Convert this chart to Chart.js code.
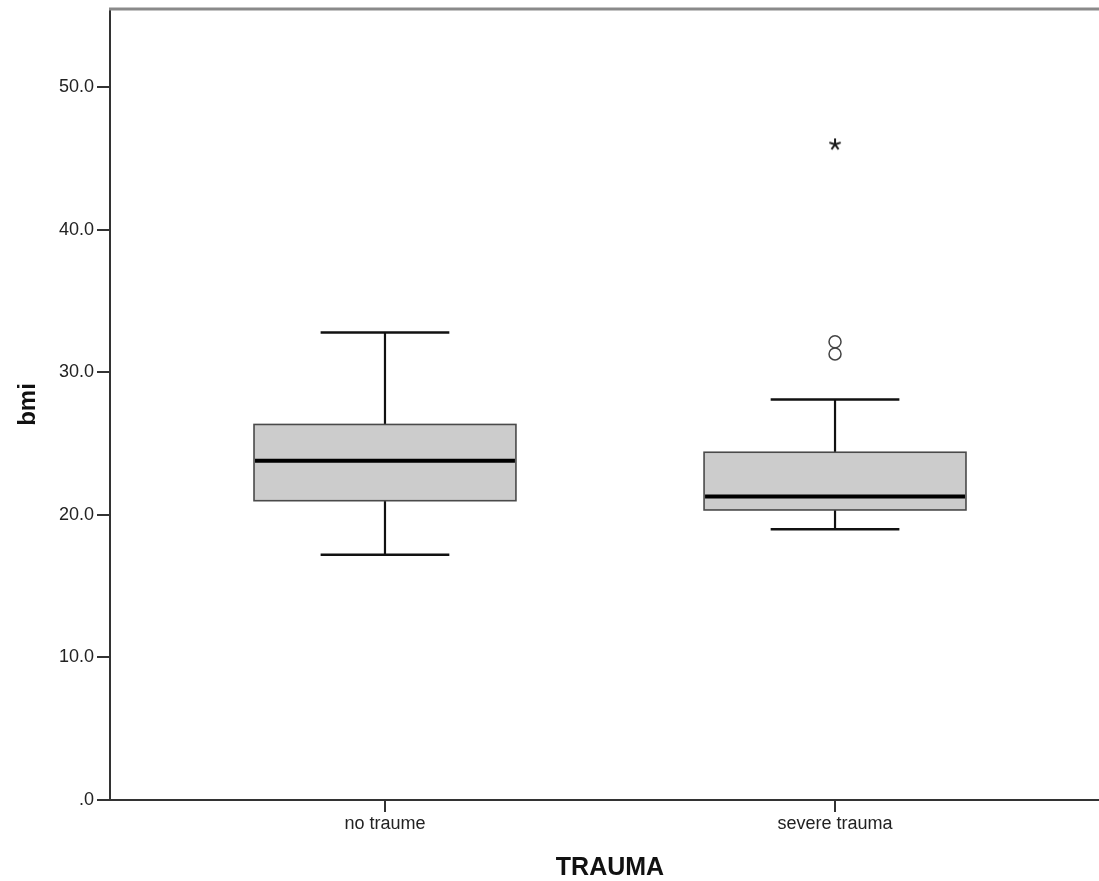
<!DOCTYPE html>
<html>
<head>
<meta charset="utf-8">
<script src="https://cdn.jsdelivr.net/npm/chart.js@4.4.1/dist/chart.umd.min.js"></script>
<style>
  html, body { margin: 0; padding: 0; background: #fff; overflow: hidden; }
  #wrap { width: 1119px; height: 881px; }
</style>
</head>
<body>
<div id="wrap"><canvas id="c" width="1119" height="881"></canvas></div>
<script>
// Groups and box-plot summary statistics for BMI
const categories   = ['no traume', 'severe trauma'];
const whiskerLow   = [17.2, 19.0];
const q1           = [21.0, 20.35];
const median       = [23.8, 21.3];
const q3           = [26.35, 24.4];
const whiskerHigh  = [32.8, 28.1];
const outliers     = [[], [32.15, 31.3]];   // drawn as open circles
const extremes     = [[], [46.0]];          // drawn as asterisks
const yTickValues  = [0, 10, 20, 30, 40, 50];

// Geometry of each box, in x-axis units
const BOX_HALF = 0.291;
const CAP_HALF = 0.143;
const FONT = '"Liberation Sans", Arial, sans-serif';

function flatten(groups) {
  const pts = [];
  groups.forEach((vals, i) => vals.forEach(v => pts.push({ x: i + 1, y: v })));
  return pts;
}

// five-armed asterisk marker as a small canvas image
function makeAsterisk() {
  const cv = document.createElement('canvas');
  cv.width = 16; cv.height = 16;
  const g = cv.getContext('2d');
  g.strokeStyle = '#1a1a1a';
  g.lineWidth = 2;
  g.lineCap = 'butt';
  for (let k = 0; k < 5; k++) {
    const a = -Math.PI / 2 + k * 2 * Math.PI / 5;
    g.beginPath();
    g.moveTo(8, 8);
    g.lineTo(8 + 6 * Math.cos(a), 8 + 6 * Math.sin(a));
    g.stroke();
  }
  return cv;
}

const boxPlugin = {
  id: 'boxes',
  beforeDatasetsDraw(chart) {
    const { ctx, scales: { x, y } } = chart;
    const line = (x1, y1, x2, y2) => { ctx.beginPath(); ctx.moveTo(x1, y1); ctx.lineTo(x2, y2); ctx.stroke(); };
    ctx.save();
    categories.forEach((_, i) => {
      const c = i + 1;
      const xc = x.getPixelForValue(c);
      const xl = x.getPixelForValue(c - BOX_HALF);
      const xr = x.getPixelForValue(c + BOX_HALF);
      const cl = x.getPixelForValue(c - CAP_HALF);
      const cr = x.getPixelForValue(c + CAP_HALF);
      const yHi = y.getPixelForValue(whiskerHigh[i]);
      const yLo = y.getPixelForValue(whiskerLow[i]);
      const yQ1 = y.getPixelForValue(q1[i]);
      const yQ3 = y.getPixelForValue(q3[i]);
      const yMd = y.getPixelForValue(median[i]);

      // whiskers and caps
      ctx.strokeStyle = '#111';
      ctx.lineWidth = 2.2;
      line(xc, yHi, xc, yQ3);
      line(xc, yQ1, xc, yLo);
      ctx.lineWidth = 2.5;
      line(cl, yHi, cr, yHi);
      line(cl, yLo, cr, yLo);

      // box
      ctx.fillStyle = '#cccccc';
      ctx.fillRect(xl, yQ3, xr - xl, yQ1 - yQ3);
      ctx.strokeStyle = '#4a4a4a';
      ctx.lineWidth = 1.6;
      ctx.strokeRect(xl, yQ3, xr - xl, yQ1 - yQ3);

      // median
      ctx.strokeStyle = '#000';
      ctx.lineWidth = 4;
      line(xl + 1, yMd, xr - 1, yMd);
    });
    ctx.restore();
  },
  afterDraw(chart) {
    // upper frame line
    const { ctx, chartArea: a } = chart;
    ctx.save();
    ctx.strokeStyle = '#8a8a8a';
    ctx.lineWidth = 3;
    ctx.beginPath();
    ctx.moveTo(a.left - 1, a.top);
    ctx.lineTo(a.right, a.top);
    ctx.stroke();
    ctx.restore();
  }
};

new Chart(document.getElementById('c'), {
  type: 'scatter',
  data: {
    datasets: [
      {
        data: flatten(outliers),
        pointStyle: 'circle',
        pointRadius: 6,
        borderWidth: 1.5,
        borderColor: '#444',
        backgroundColor: 'rgba(0,0,0,0)'
      },
      {
        data: flatten(extremes),
        pointStyle: makeAsterisk(),
        pointRadius: 8
      }
    ]
  },
  options: {
    responsive: false,
    animation: false,
    devicePixelRatio: 1,
    layout: { padding: { top: 7, right: 0, left: 0, bottom: 0 } },
    plugins: { legend: { display: false }, tooltip: { enabled: false } },
    scales: {
      x: {
        type: 'linear',
        position: 'bottom',
        min: 0.389,
        max: 2.611,
        afterBuildTicks: s => { s.ticks = categories.map((_, i) => ({ value: i + 1 })); },
        afterFit: s => { s.height = 81; s.paddingLeft = 0; s.paddingRight = 0; },
        grid: { drawOnChartArea: false, drawTicks: true, tickLength: 12, color: '#333', lineWidth: 2 },
        border: { display: true, color: '#333', width: 2 },
        ticks: {
          padding: 1,
          color: '#222',
          font: { family: FONT, size: 18 },
          callback: v => categories[v - 1] ?? ''
        },
        title: {
          display: true,
          text: 'TRAUMA',
          color: '#111',
          font: { family: FONT, size: 25, weight: 'bold', lineHeight: 1 },
          padding: { top: 0, bottom: 0 }
        }
      },
      y: {
        min: 0,
        max: 55.5,
        afterBuildTicks: s => { s.ticks = yTickValues.map(v => ({ value: v })); },
        afterFit: s => { s.width = 110; s.paddingTop = 0; s.paddingBottom = 0; },
        grid: { drawOnChartArea: false, drawTicks: true, tickLength: 13, color: '#333', lineWidth: 2 },
        border: { display: true, color: '#333', width: 2 },
        ticks: {
          padding: 3,
          color: '#222',
          font: { family: FONT, size: 18 },
          callback: v => (v === 0 ? '.0' : v.toFixed(1))
        },
        title: {
          display: true,
          text: 'bmi',
          color: '#111',
          font: { family: FONT, size: 24, weight: 'bold' },
          padding: { top: 14, bottom: 0 }
        }
      }
    }
  },
  plugins: [boxPlugin]
});
</script>
</body>
</html>
